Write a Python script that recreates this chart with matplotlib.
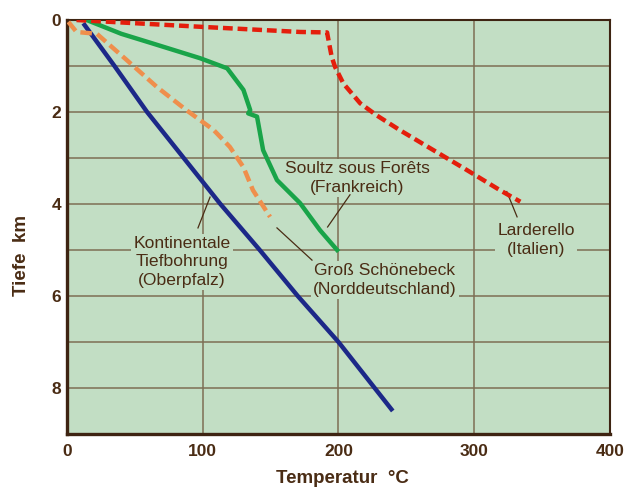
import matplotlib
matplotlib.use('Agg')
import matplotlib.pyplot as plt

# Temperaturprofile (Temperatur in °C, Tiefe in km)
kont_t = [12, 35, 59, 86, 113, 142, 170, 200, 240]
kont_z = [0.07, 1.0, 2.0, 3.0, 4.0, 5.0, 6.0, 7.0, 8.5]

soultz_t = [14.5, 40, 62, 98, 118, 130, 135, 133.5, 140, 144.5, 154.7, 171.7, 186.4, 199]
soultz_z = [0.0, 0.3, 0.5, 0.83, 1.05, 1.52, 1.96, 2.03, 2.1, 2.83, 3.48, 3.98, 4.57, 5.0]

gross_t = [1, 7, 22, 44, 66, 88, 108, 120, 130, 137, 149.6]
gross_z = [0.04, 0.26, 0.3, 0.87, 1.45, 1.96, 2.39, 2.76, 3.2, 3.7, 4.28]

lard_t = [7, 100, 171.7, 191.6, 195, 197.5, 203.6, 216, 228, 245, 270, 294.5, 319, 334]
lard_z = [0.0, 0.15, 0.26, 0.27, 0.8, 1.02, 1.38, 1.81, 2.07, 2.39, 2.83, 3.26, 3.7, 3.95]

xticks = [0, 100, 200, 300, 400]
yticks = [0, 2, 4, 6, 8]

bg = '#c2dec4'
brown = '#4a2c14'
gridc = '#7d6f55'

plt.rcParams['font.family'] = ['Liberation Sans', 'DejaVu Sans']

fig = plt.figure(figsize=(6.35, 4.88), dpi=100)
ax = fig.add_axes([0.1055, 0.1107, 0.855, 0.8483])
ax.set_facecolor(bg)

ax.set_xlim(0, 400)
ax.set_ylim(9, 0)

for x in [100, 200, 300]:
    ax.axvline(x, color=gridc, lw=1.1, zorder=1)
for y in range(1, 9):
    ax.axhline(y, color=gridc, lw=1.1, zorder=1)

ax.plot(kont_t, kont_z, color='#1c2888', lw=3.2, zorder=4, solid_capstyle='butt')
ax.plot(soultz_t, soultz_z, color='#19a449', lw=3.2, zorder=4)
ax.plot(gross_t, gross_z, color='#ef8f4c', lw=3.2, zorder=4, dashes=(2.6, 1.2))
ax.plot(lard_t, lard_z, color='#e41e0c', lw=3.2, zorder=4, dashes=(2.2, 1.1))

box = dict(facecolor=bg, edgecolor='none', pad=1.5)
kw = dict(ha='center', va='center', color=brown, fontsize=12.6, linespacing=1.3,
          bbox=box, zorder=2)
ax.text(213.7, 3.43, 'Soultz sous Forêts\n(Frankreich)', **kw)
ax.text(345.6, 4.78, 'Larderello\n(Italien)', **kw)
ax.text(84.7, 5.26, 'Kontinentale\nTiefbohrung\n(Oberpfalz)', **kw)
ax.text(234, 5.65, 'Groß Schönebeck\n(Norddeutschland)', **kw)

# Zeigerlinien
ax.plot([208.5, 192], [3.8, 4.5], color=brown, lw=0.9, zorder=3)
ax.plot([324, 331.6], [3.73, 4.28], color=brown, lw=0.9, zorder=3)
ax.plot([96.5, 105.4], [4.52, 3.85], color=brown, lw=0.9, zorder=3)
ax.plot([154.7, 180.5], [4.52, 5.22], color=brown, lw=0.9, zorder=3)

ax.set_xticks(xticks)
ax.set_yticks(yticks)
ax.tick_params(length=0, colors=brown, labelsize=12.5)
ax.tick_params(axis='x', pad=7)
ax.tick_params(axis='y', pad=4)
for lbl in ax.get_xticklabels() + ax.get_yticklabels():
    lbl.set_fontweight('bold')

for side in ['left', 'bottom']:
    ax.spines[side].set_linewidth(2.4)
    ax.spines[side].set_color('#3e2412')
for side in ['top', 'right']:
    ax.spines[side].set_linewidth(1.5)
    ax.spines[side].set_color('#3e2412')

fig.text(342 / 635, 0.003, 'Temperatur  °C', ha='center', va='bottom', fontsize=13.5,
         fontweight='bold', color=brown)
fig.text(22 / 635, 1 - 256 / 488, 'Tiefe  km', ha='center', va='center', rotation=90,
         fontsize=13.5, fontweight='bold', color=brown)

fig.savefig('out.png', dpi=100, facecolor='white')
